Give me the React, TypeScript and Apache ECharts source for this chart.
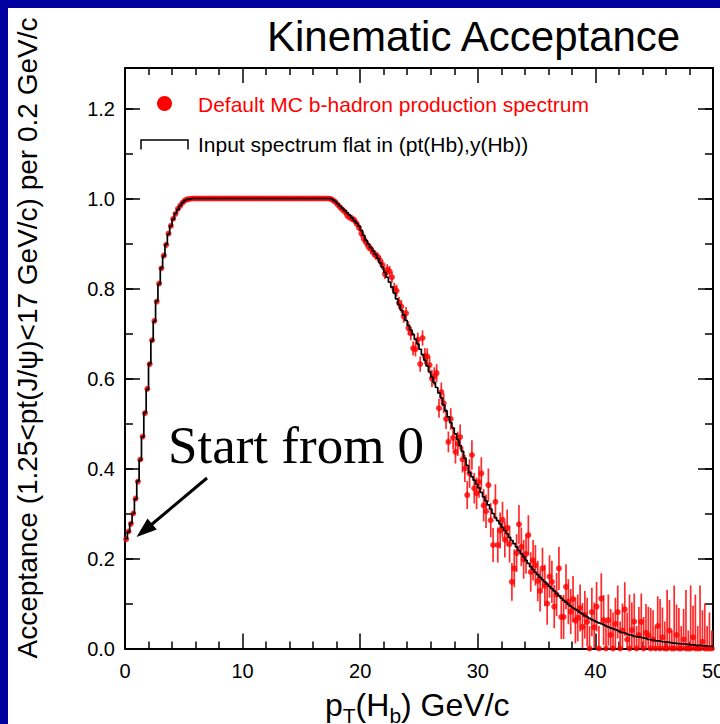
import React, { useEffect, useRef } from 'react';
import * as echarts from 'echarts';

// Bin width of the histograms (GeV/c); 250 bins cover 0..50
const BIN_WIDTH = 0.2;

// Black step histogram: "Input spectrum flat in (pt(Hb),y(Hb))"
const HIST = [
  0.244, 0.259, 0.278, 0.300, 0.332, 0.372, 0.419, 0.470, 0.524, 0.576,
  0.633, 0.684, 0.727, 0.772, 0.810, 0.846, 0.872, 0.898, 0.921, 0.939,
  0.954, 0.967, 0.976, 0.984, 0.991, 0.996, 0.998, 0.999, 1.000, 1.000,
  1.000, 1.000, 1.000, 1.000, 1.000, 1.000, 1.000, 1.000, 1.000, 1.000,
  1.000, 1.000, 1.000, 1.000, 1.000, 1.000, 1.000, 1.000, 1.000, 1.000,
  1.000, 1.000, 1.000, 1.000, 1.000, 1.000, 1.000, 1.000, 1.000, 1.000,
  1.000, 1.000, 1.000, 1.000, 1.000, 1.000, 1.000, 1.000, 1.000, 1.000,
  1.000, 1.000, 1.000, 1.000, 1.000, 1.000, 1.000, 1.000, 1.000, 1.000,
  1.000, 1.000, 1.000, 1.000, 1.000, 1.000, 1.000, 0.999, 0.997, 0.993,
  0.988, 0.983, 0.978, 0.973, 0.968, 0.963, 0.957, 0.951, 0.945, 0.939,
  0.929, 0.918, 0.907, 0.899, 0.891, 0.884, 0.876, 0.867, 0.857, 0.847,
  0.836, 0.825, 0.814, 0.803, 0.790, 0.777, 0.764, 0.752, 0.741, 0.729,
  0.718, 0.708, 0.698, 0.687, 0.677, 0.665, 0.653, 0.641, 0.628, 0.615,
  0.603, 0.591, 0.580, 0.568, 0.557, 0.541, 0.528, 0.515, 0.502, 0.490,
  0.477, 0.464, 0.451, 0.438, 0.423, 0.407, 0.391, 0.382, 0.374, 0.365,
  0.357, 0.347, 0.337, 0.328, 0.319, 0.310, 0.300, 0.291, 0.284, 0.277,
  0.269, 0.262, 0.255, 0.247, 0.240, 0.233, 0.226, 0.218, 0.211, 0.204,
  0.196, 0.189, 0.182, 0.176, 0.169, 0.164, 0.158, 0.153, 0.148, 0.143,
  0.138, 0.133, 0.128, 0.122, 0.117, 0.112, 0.107, 0.103, 0.098, 0.094,
  0.090, 0.087, 0.084, 0.080, 0.077, 0.073, 0.070, 0.067, 0.064, 0.062,
  0.059, 0.057, 0.055, 0.053, 0.050, 0.048, 0.046, 0.044, 0.042, 0.040,
  0.037, 0.035, 0.034, 0.032, 0.030, 0.029, 0.027, 0.026, 0.025, 0.024,
  0.023, 0.022, 0.020, 0.019, 0.018, 0.017, 0.017, 0.016, 0.015, 0.014,
  0.014, 0.013, 0.012, 0.012, 0.011, 0.011, 0.010, 0.010, 0.009, 0.009,
  0.008, 0.008, 0.007, 0.007, 0.007, 0.006, 0.006, 0.005, 0.005, 0.004,
];

// Red points: "Default MC b-hadron production spectrum"
const MC = [
  0.243, 0.260, 0.277, 0.300, 0.333, 0.371, 0.420, 0.471, 0.523, 0.577,
  0.632, 0.685, 0.728, 0.771, 0.811, 0.845, 0.873, 0.897, 0.922, 0.939,
  0.955, 0.966, 0.977, 0.984, 0.991, 0.996, 0.998, 0.999, 1.000, 1.000,
  1.000, 1.000, 1.000, 1.000, 1.000, 1.000, 1.000, 1.000, 1.000, 1.000,
  1.000, 1.000, 1.000, 1.000, 1.000, 1.000, 1.000, 1.000, 1.000, 1.000,
  1.000, 1.000, 1.000, 1.000, 1.000, 1.000, 1.000, 1.000, 1.000, 1.000,
  1.000, 1.000, 1.000, 1.000, 1.000, 1.000, 1.000, 1.000, 1.000, 1.000,
  1.000, 1.000, 1.000, 1.000, 1.000, 1.000, 1.000, 1.000, 1.000, 1.000,
  1.000, 1.000, 1.000, 1.000, 1.000, 1.000, 1.000, 0.999, 0.996, 0.992,
  0.986, 0.980, 0.975, 0.970, 0.962, 0.958, 0.955, 0.952, 0.944, 0.935,
  0.922, 0.910, 0.902, 0.893, 0.888, 0.880, 0.874, 0.870, 0.862, 0.852,
  0.832, 0.842, 0.838, 0.825, 0.800, 0.795, 0.768, 0.760, 0.738, 0.745,
  0.712, 0.700, 0.667, 0.665, 0.686, 0.632, 0.690, 0.650, 0.649, 0.630,
  0.600, 0.605, 0.612, 0.534, 0.570, 0.545, 0.510, 0.459, 0.510, 0.468,
  0.437, 0.455, 0.470, 0.420, 0.400, 0.341, 0.389, 0.430, 0.356, 0.345,
  0.370, 0.389, 0.318, 0.305, 0.363, 0.285, 0.230, 0.326, 0.230, 0.262,
  0.286, 0.242, 0.268, 0.232, 0.148, 0.178, 0.212, 0.276, 0.226, 0.198,
  0.210, 0.252, 0.170, 0.196, 0.185, 0.150, 0.128, 0.178, 0.140, 0.100,
  0.160, 0.148, 0.093, 0.120, 0.178, 0.070, 0.070, 0.137, 0.104, 0.082,
  0.110, 0.062, 0.068, 0.090, 0.048, 0.075, 0.059, 0.000, 0.081, 0.047,
  0.093, 0.000, 0.111, 0.063, 0.000, 0.063, 0.030, 0.000, 0.055, 0.081,
  0.000, 0.040, 0.087, 0.020, 0.000, 0.041, 0.060, 0.000, 0.030, 0.059,
  0.000, 0.035, 0.029, 0.000, 0.020, 0.000, 0.050, 0.000, 0.025, 0.000,
  0.000, 0.040, 0.000, 0.000, 0.030, 0.000, 0.000, 0.020, 0.000, 0.000,
  0.000, 0.025, 0.000, 0.000, 0.000, 0.015, 0.000, 0.000, 0.000, 0.000,
];

// Error (half-length of the vertical bar) of each red point
const MC_ERR = [
  0.004, 0.004, 0.004, 0.004, 0.004, 0.004, 0.004, 0.004, 0.004, 0.004,
  0.004, 0.004, 0.004, 0.004, 0.004, 0.004, 0.004, 0.004, 0.004, 0.004,
  0.004, 0.004, 0.004, 0.004, 0.004, 0.004, 0.004, 0.004, 0.002, 0.002,
  0.002, 0.002, 0.002, 0.002, 0.002, 0.002, 0.002, 0.002, 0.002, 0.002,
  0.002, 0.002, 0.002, 0.002, 0.002, 0.002, 0.002, 0.002, 0.002, 0.002,
  0.002, 0.002, 0.002, 0.002, 0.002, 0.002, 0.002, 0.002, 0.002, 0.002,
  0.002, 0.002, 0.002, 0.002, 0.002, 0.002, 0.002, 0.002, 0.002, 0.002,
  0.002, 0.002, 0.002, 0.002, 0.002, 0.002, 0.002, 0.002, 0.002, 0.002,
  0.002, 0.002, 0.002, 0.002, 0.002, 0.002, 0.002, 0.004, 0.005, 0.005,
  0.006, 0.006, 0.006, 0.007, 0.007, 0.007, 0.008, 0.008, 0.008, 0.008,
  0.009, 0.009, 0.009, 0.009, 0.010, 0.010, 0.010, 0.010, 0.011, 0.011,
  0.011, 0.012, 0.012, 0.012, 0.013, 0.013, 0.013, 0.014, 0.014, 0.014,
  0.015, 0.015, 0.016, 0.016, 0.016, 0.017, 0.017, 0.018, 0.018, 0.019,
  0.019, 0.020, 0.020, 0.021, 0.021, 0.022, 0.022, 0.023, 0.024, 0.025,
  0.026, 0.027, 0.028, 0.029, 0.030, 0.031, 0.032, 0.033, 0.034, 0.035,
  0.035, 0.036, 0.036, 0.037, 0.037, 0.038, 0.038, 0.039, 0.039, 0.040,
  0.040, 0.040, 0.041, 0.041, 0.042, 0.042, 0.042, 0.043, 0.043, 0.043,
  0.044, 0.044, 0.044, 0.045, 0.045, 0.045, 0.046, 0.046, 0.046, 0.047,
  0.047, 0.047, 0.048, 0.048, 0.048, 0.049, 0.049, 0.050, 0.050, 0.050,
  0.051, 0.051, 0.052, 0.052, 0.053, 0.053, 0.054, 0.050, 0.054, 0.055,
  0.055, 0.050, 0.056, 0.056, 0.060, 0.057, 0.058, 0.080, 0.058, 0.059,
  0.060, 0.060, 0.060, 0.060, 0.120, 0.061, 0.062, 0.050, 0.062, 0.063,
  0.070, 0.064, 0.064, 0.090, 0.065, 0.050, 0.066, 0.110, 0.066, 0.060,
  0.130, 0.068, 0.040, 0.140, 0.068, 0.090, 0.050, 0.068, 0.130, 0.040,
  0.140, 0.070, 0.120, 0.050, 0.140, 0.070, 0.100, 0.050, 0.080, 0.040,
];

const TITLE = 'Kinematic Acceptance';
const Y_TITLE = 'Acceptance (1.25<pt(J/\u03c8)<17 GeV/c) per 0.2 GeV/c';
const X_TITLE_PARTS = [
  { t: 'p', sub: false },
  { t: 'T', sub: true },
  { t: '(H', sub: false },
  { t: 'b', sub: true },
  { t: ') GeV/c', sub: false },
];
const LEGEND_MC = 'Default MC b-hadron production spectrum';
const LEGEND_FLAT = 'Input spectrum flat in (pt(Hb),y(Hb))';
const NOTE = 'Start from 0';

const SANS = '"Liberation Sans", Arial, Helvetica, sans-serif';
const SERIF = '"Liberation Serif", "Times New Roman", serif';

export default function App() {
  const ref = useRef<HTMLDivElement>(null);

  useEffect(() => {
    if (!ref.current) return;
    const chart = echarts.init(ref.current, null, { renderer: 'svg' });

    const histData: number[][] = HIST.map((v, i) => [i * BIN_WIDTH, v]);
    histData.push([HIST.length * BIN_WIDTH, HIST[HIST.length - 1]]);
    const mcData = MC.map((v, i) => [(i + 0.5) * BIN_WIDTH, v, MC_ERR[i]]);

    // x title pieces measured with canvas
    const cv = document.createElement('canvas').getContext('2d')!;
    const measure = (t: string, size: number) => {
      cv.font = `${size}px "Liberation Sans"`;
      return cv.measureText(t).width;
    };
    const mainSize = 32;
    const subSize = 21;
    let cx = 325;
    const xTitle: any[] = [];
    X_TITLE_PARTS.forEach((p) => {
      const size = p.sub ? subSize : mainSize;
      const base = p.sub ? 723 : 716;
      xTitle.push({
        type: 'text',
        x: cx,
        y: base - 0.35 * size,
        z: 50,
        style: {
          text: p.t,
          font: `${size}px ${SANS}`,
          fill: '#000',
          align: 'left',
          verticalAlign: 'middle',
          textAlign: 'left',
          textVerticalAlign: 'middle',
        },
      });
      cx += measure(p.t, size);
    });

    const tickStyle = { color: '#000', width: 1.5 };
    const lineStyle = { color: '#000', width: 2 };

    const xBase = {
      type: 'value',
      min: 0,
      max: 50,
      interval: 10,
      gridIndex: 0,
      axisLine: { show: true, onZero: false, lineStyle },
      axisTick: { show: true, inside: true, length: 15, lineStyle: tickStyle },
      minorTick: { show: true, splitNumber: 5, length: 7, lineStyle: tickStyle },
      splitLine: { show: false },
      minorSplitLine: { show: false },
    };
    const yMajor = {
      type: 'value',
      min: 0,
      max: 1.29,
      interval: 0.2,
      gridIndex: 0,
      axisLine: { show: true, onZero: false, lineStyle },
      axisTick: { show: true, inside: true, length: 15, lineStyle: tickStyle },
      splitLine: { show: false },
    };
    const yMinor = {
      type: 'value',
      min: 0,
      max: 1.29,
      interval: 0.1,
      gridIndex: 0,
      axisLine: { show: false, onZero: false },
      axisTick: { show: true, inside: true, length: 8, lineStyle: tickStyle },
      axisLabel: { show: false },
      splitLine: { show: false },
    };

    const option: any = {
      animation: false,
      backgroundColor: '#ffffff',
      grid: {
        left: 125,
        right: 7,
        top: 68,
        bottom: 75.5,
        containLabel: false,
        outerBoundsMode: 'none',
      },
      xAxis: [
        {
          ...xBase,
          position: 'bottom',
          axisLabel: {
            show: true,
            margin: 12,
            color: '#000',
            fontSize: 20,
            fontFamily: SANS,
          },
        },
        { ...xBase, position: 'top', axisLabel: { show: false } },
      ],
      yAxis: [
        {
          ...yMajor,
          position: 'left',
          axisLabel: {
            show: true,
            margin: 10,
            color: '#000',
            fontSize: 20,
            fontFamily: SANS,
            showMaxLabel: false,
            formatter: (v: number) => v.toFixed(1),
          },
        },
        { ...yMajor, position: 'right', axisLabel: { show: false } },
        { ...yMinor, position: 'left' },
        { ...yMinor, position: 'right' },
      ],
      series: [
        {
          name: 'err',
          type: 'custom',
          xAxisIndex: 0,
          yAxisIndex: 0,
          z: 2,
          clip: true,
          dimensions: ['x', 'y', 'e'],
          encode: { x: 0, y: 1 },
          data: mcData,
          renderItem: (params: any, api: any) => {
            const x = api.value(0);
            const y = api.value(1);
            const e = api.value(2);
            const p1 = api.coord([x, Math.max(0, y - e)]);
            const p2 = api.coord([x, y + e]);
            return {
              type: 'line',
              shape: { x1: p1[0], y1: p1[1], x2: p2[0], y2: p2[1] },
              style: { stroke: '#ff2a2a', lineWidth: 1.7 },
            };
          },
        },
        {
          name: LEGEND_MC,
          type: 'scatter',
          xAxisIndex: 0,
          yAxisIndex: 0,
          z: 3,
          symbol: 'circle',
          symbolSize: 6,
          itemStyle: { color: '#ff0000' },
          data: mcData.map((d) => [d[0], d[1]]),
        },
        {
          name: LEGEND_FLAT,
          type: 'line',
          xAxisIndex: 0,
          yAxisIndex: 0,
          z: 4,
          step: 'end',
          showSymbol: false,
          symbol: 'none',
          lineStyle: { color: '#000', width: 1.7 },
          data: histData,
        },
      ],
      graphic: [
        { type: 'rect', z: 100, shape: { x: 0, y: 0, width: 720, height: 8 }, style: { fill: '#0000a0' } },
        { type: 'rect', z: 100, shape: { x: 0, y: 0, width: 8, height: 724 }, style: { fill: '#0000a0' } },
        {
          type: 'text',
          x: 267,
          y: 36,
          z: 50,
          style: {
            text: TITLE,
            font: `42px ${SANS}`,
            fill: '#000',
            align: 'left',
            verticalAlign: 'middle',
            textAlign: 'left',
            textVerticalAlign: 'middle',
          },
        },
        {
          type: 'text',
          x: 27,
          y: 338,
          rotation: Math.PI / 2,
          z: 50,
          style: {
            text: Y_TITLE,
            font: `28px ${SANS}`,
            fill: '#000',
            align: 'center',
            verticalAlign: 'middle',
            textAlign: 'center',
            textVerticalAlign: 'middle',
          },
        },
        ...xTitle,
        { type: 'circle', z: 50, shape: { cx: 164.5, cy: 103.5, r: 7.5 }, style: { fill: '#ff0000' } },
        {
          type: 'text',
          x: 198,
          y: 104,
          z: 50,
          style: {
            text: LEGEND_MC,
            font: `21px ${SANS}`,
            fill: '#ff0000',
            align: 'left',
            verticalAlign: 'middle',
            textAlign: 'left',
            textVerticalAlign: 'middle',
          },
        },
        {
          type: 'polyline',
          z: 50,
          shape: { points: [[141, 149.5], [141, 140], [188, 140], [188, 149.5]] },
          style: { stroke: '#000', lineWidth: 1.5, fill: 'none' },
        },
        {
          type: 'text',
          x: 198,
          y: 144,
          z: 50,
          style: {
            text: LEGEND_FLAT,
            font: `21px ${SANS}`,
            fill: '#000',
            align: 'left',
            verticalAlign: 'middle',
            textAlign: 'left',
            textVerticalAlign: 'middle',
          },
        },
        {
          type: 'text',
          x: 168,
          y: 445,
          z: 50,
          style: {
            text: NOTE,
            font: `53px ${SERIF}`,
            fill: '#000',
            align: 'left',
            verticalAlign: 'middle',
            textAlign: 'left',
            textVerticalAlign: 'middle',
          },
        },
        {
          type: 'line',
          z: 50,
          shape: { x1: 207, y1: 478, x2: 151, y2: 525 },
          style: { stroke: '#000', lineWidth: 3 },
        },
        {
          type: 'polygon',
          z: 50,
          shape: { points: [[136.5, 537], [147.5, 518.5], [156.8, 529.5]] },
          style: { fill: '#000' },
        },
      ],
    };

    chart.setOption(option);
    return () => chart.dispose();
  }, []);

  return (
    <div
      ref={ref}
      style={{ position: 'fixed', left: 0, top: 0, width: 720, height: 724, background: '#fff' }}
    />
  );
}
